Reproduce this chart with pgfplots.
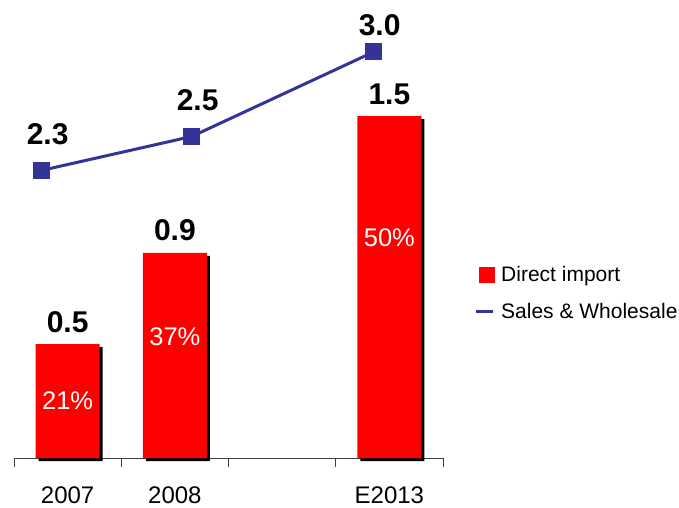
\documentclass[border=0pt]{standalone}
\usepackage{pgfplots}
\pgfplotsset{compat=1.18}
\usepackage{pgfplotstable}
\usepackage{fontspec}
\setmainfont{Liberation Sans}
\usetikzlibrary{shadows}
\definecolor{linecol}{RGB}{51,51,153}
\definecolor{barred}{RGB}{255,0,0}

\pgfplotstableread{
x y
0 0.5
1 0.9
3 1.5
}\bars
\pgfplotstableread{
x y dy
-0.242 2.3 26
1.156 2.5 26
2.853 3.0 16
}\sales

\begin{document}
\begin{tikzpicture}
\begin{axis}[
 scale only axis, width=429pt, height=458pt,
 anchor=south west, at={(0pt,0pt)},
 xmin=-0.5, xmax=3.5, ymin=0, ymax=2.0088,
 /pgf/number format/assume math mode=true,
 axis x line*=bottom, axis y line=none,
 x axis line style={black!75, line width=0.8pt},
 xtick={0,1,3}, xticklabels={2007,2008,E2013},
 major tick length=0pt,
 minor xtick={-0.5,0.5,1.5,2.5,3.5},
 minor tick length=9pt, tick align=outside,
 minor tick style={black!75, line width=0.8pt},
 xticklabel style={font=\fontsize{24}{28}\selectfont, anchor=base, yshift=-45pt, inner sep=0pt},
 clip=false,
 ybar, bar width=64pt,
 nodes near coords={\pgfmathprintnumber[fixed,fixed zerofill,precision=1,assume math mode=true]{\pgfplotspointmeta}},
 every node near coord/.append style={font=\bfseries\fontsize{30}{36}\selectfont, anchor=base, yshift=12pt, text=black},
]
\addplot[fill=barred, draw=none, drop shadow={shadow xshift=3pt, shadow yshift=-3pt, opacity=1, fill=black}] table[x=x,y=y] {\bars};
\node[text=white, font=\fontsize{25.5}{30}\selectfont] at (axis cs:0,0.25) {21\%};
\node[text=white, font=\fontsize{25.5}{30}\selectfont] at (axis cs:1,0.531) {37\%};
\node[text=white, font=\fontsize{25.5}{30}\selectfont] at (axis cs:3,0.965) {50\%};
\end{axis}
\begin{axis}[
 scale only axis, width=429pt, height=458pt,
 anchor=south west, at={(0pt,0pt)},
 xmin=-0.5, xmax=3.5, ymin=0.6, ymax=3.307,
 /pgf/number format/assume math mode=true,
 hide axis, clip=false,
 legend style={draw=none, fill=none, font=\fontsize{21}{25}\selectfont, at={(1.0723,0.3603)}, anchor=west, row sep=16pt, inner sep=0pt,
   /tikz/every odd column/.append style={column sep=5pt}},
 legend cell align=left,
]
\addlegendimage{legend image code/.code={\fill[barred] (3pt,-7.5pt) rectangle (18pt,7.5pt);}}
\addlegendentry{Direct import}
\addplot[linecol, line width=3pt, mark=square*, mark size=8pt, mark options={solid, line width=1pt},
  legend image code/.code={\draw[linecol, line width=3pt] (0pt,0pt) -- (17pt,0pt);},
  visualization depends on={\thisrow{dy} \as \dy},
  nodes near coords={\pgfmathprintnumber[fixed,fixed zerofill,precision=1,assume math mode=true]{\pgfplotspointmeta}},
  every node near coord/.append style={font=\bfseries\fontsize{30}{36}\selectfont, anchor=base, yshift=\dy pt, xshift=6pt, text=black},
] table[x=x,y=y] {\sales};
\addlegendentry{Sales \& Wholesale}
\end{axis}
\pgfresetboundingbox
\path[use as bounding box] (-14pt,-49pt) rectangle (665pt,458pt);
\end{tikzpicture}
\end{document}
